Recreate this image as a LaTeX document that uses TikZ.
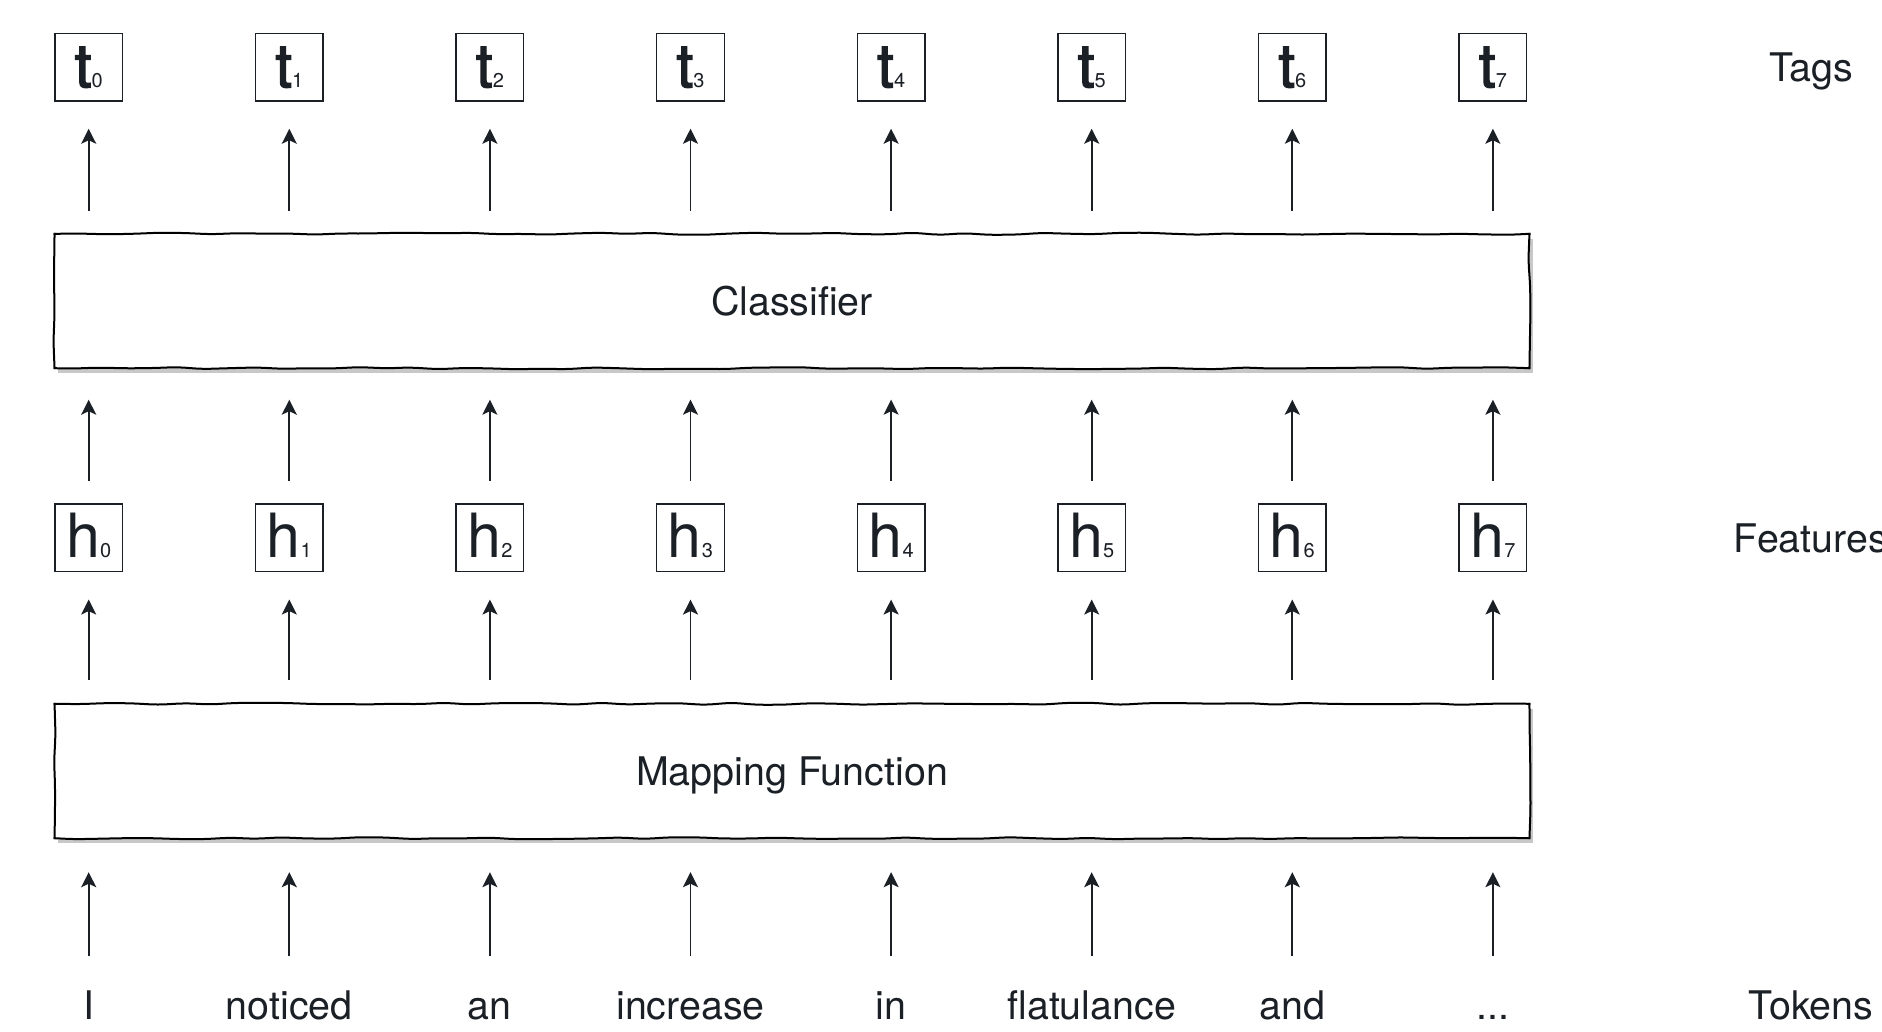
\documentclass[tikz,border=0pt]{standalone}
\usepackage{fontspec}
\setmainfont{TeX Gyre Heros}
\newfontfamily\tfont[FakeBold=2]{TeX Gyre Heros}
\usetikzlibrary{arrows.meta,decorations.pathmorphing,backgrounds}
\definecolor{ink}{RGB}{26,32,38}
\definecolor{shadowc}{RGB}{200,200,200}
\newcommand\sketchbox[1]{%
  \draw[sk] (#1.north west) -- (#1.north east);
  \draw[sk] (#1.north east) -- (#1.south east);
  \draw[sk] (#1.south east) -- (#1.south west);
  \draw[sk] (#1.south west) -- (#1.north west);}
\begin{document}
\begin{tikzpicture}[x=1pt,y=-1pt,
  lbl/.style={text=ink, font=\fontsize{39.4}{47}\selectfont, inner sep=0pt, anchor=base},
  tok/.style={text=ink, font=\fontsize{39.4}{47}\selectfont, inner sep=0pt, anchor=base, text height=30pt, text depth=9pt},
  tagbox/.style={draw=ink, line width=1.5pt, minimum width=67.6pt, inner sep=0pt, text height=54pt, text depth=13.6pt, text=ink, fill=white},
  big/.style={minimum width=1474.5pt, minimum height=134pt, inner sep=0pt, text height=28.3pt, text depth=0pt, text=ink, font=\fontsize{39.4}{47}\selectfont},
  arr/.style={draw=ink, line width=1.7pt, -{Stealth[length=15pt,width=15pt,inset=3.5pt]}},
  sk/.style={draw=black, line width=2pt, line cap=rect, decorate, decoration={random steps, segment length=26pt, amplitude=1.1pt}, rounded corners=8pt}
]
\useasboundingbox (0,0) rectangle (1882,1031);
\pgfmathsetseed{7}

% big boxes
\node[big] (C) at (792,301) {Classifier};
\node[big] (M) at (792,771) {Mapping Function};

\begin{scope}[on background layer]
  \fill[white] (0,0) rectangle (1882,1031);
  \fill[shadowc] ([shift={(3.5,5)}]C.south west) rectangle ([shift={(3.5,5)}]C.north east);
  \fill[white] (C.south west) rectangle (C.north east);
  \fill[shadowc] ([shift={(3.5,5)}]M.south west) rectangle ([shift={(3.5,5)}]M.north east);
  \fill[white] (M.south west) rectangle (M.north east);
\end{scope}
\sketchbox{C}
\sketchbox{M}

% columns
\foreach \i in {0,...,7} {
  \pgfmathsetmacro\xx{88.7+200.6*\i}
  \node[tagbox] (t\i) at (\xx,67.2) {{\tfont\fontsize{61}{61}\selectfont t}{\fontsize{20}{20}\selectfont \i}};
  \node[tagbox] (h\i) at (\xx,537.7) {{\fontsize{61}{61}\selectfont h}{\fontsize{20}{20}\selectfont \i}};
}

% tokens
\node[tok] (w0) at (88.7,1019.3) {I};
\node[tok] (w1) at (289.3,1019.3) {noticed};
\node[tok] (w2) at (489.9,1019.3) {an};
\node[tok] (w3) at (690.5,1019.3) {increase};
\node[tok] (w4) at (891.1,1019.3) {in};
\node[tok] (w5) at (1091.7,1019.3) {flatulance};
\node[tok] (w6) at (1292.3,1019.3) {and};
\node[tok] (w7) at (1492.9,1019.3) {.{}.{}.};

% side labels
\node[lbl] (tags) at (1811,81.7) {Tags};
\node[lbl] (feat) at (1811,552.7) {Features};
\node[lbl] (toks) at (1811,1019.3) {Tokens};

% arrows
\foreach \i in {0,...,7} {
  \draw[arr, shorten <=23pt, shorten >=27pt] (C.north -| t\i.south) -- (t\i.south);
  \draw[arr, shorten <=22.2pt, shorten >=31.5pt] (h\i.north) -- (C.south -| h\i.north);
  \draw[arr, shorten <=24pt, shorten >=27.3pt] (M.north -| h\i.south) -- (h\i.south);
  \draw[arr, shorten <=33.3pt, shorten >=34pt] (w\i.north) -- (M.south -| w\i.north);
}
\end{tikzpicture}
\end{document}
